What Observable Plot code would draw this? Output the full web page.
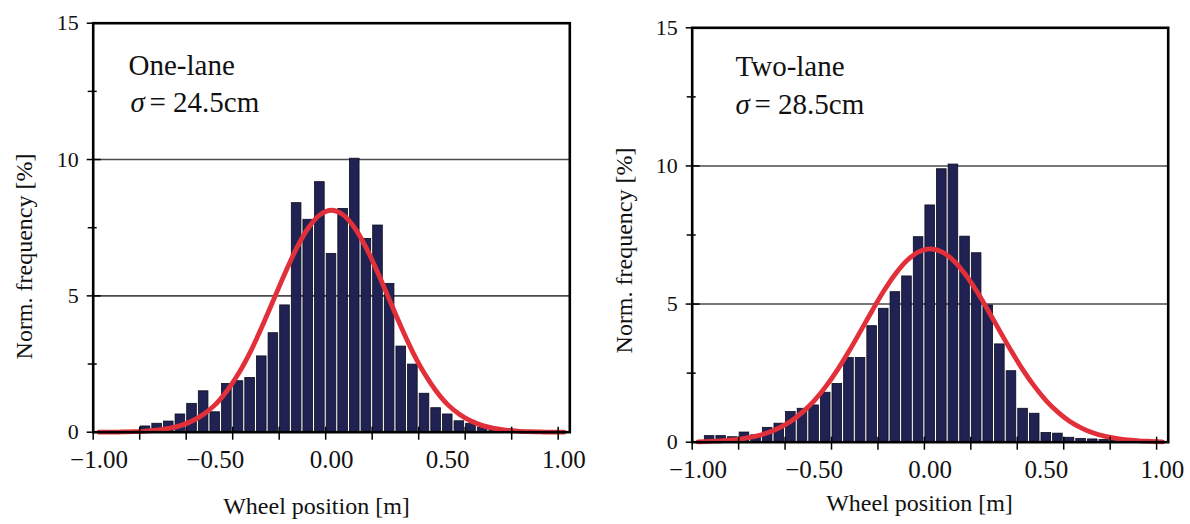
<!DOCTYPE html>
<html><head><meta charset="utf-8">
<script src="https://cdn.jsdelivr.net/npm/d3@7"></script>
<script src="https://cdn.jsdelivr.net/npm/@observablehq/plot@0.6"></script>
<style>
html,body{margin:0;padding:0;background:#fff;}
#wrap{position:relative;width:1190px;height:524px;display:flex;overflow:hidden;}
#wrap svg{display:block;overflow:visible;}
#wrap svg text{font-family:'Liberation Serif','Times New Roman',Times,serif;}
</style></head><body><div id="wrap"></div>
<script>
// ---- data ----
const oneLanePos  = [-0.80,-0.75,-0.70,-0.65,-0.60,-0.55,-0.50,-0.45,-0.40,-0.35,-0.30,-0.25,-0.20,-0.15,-0.10,-0.05,0.00,0.05,0.10,0.15,0.20,0.25,0.30,0.35,0.40,0.45,0.50,0.55,0.60,0.65,0.70];
const oneLaneFreq = [0.21,0.31,0.39,0.65,1.04,1.50,0.73,1.77,1.87,1.99,2.78,3.63,4.65,8.40,7.79,9.17,6.54,8.19,10.03,7.09,7.58,5.44,3.14,2.48,1.41,0.88,0.65,0.40,0.31,0.17,0.09];

const twoLanePos  = [-0.95,-0.90,-0.85,-0.80,-0.75,-0.70,-0.65,-0.60,-0.55,-0.50,-0.45,-0.40,-0.35,-0.30,-0.25,-0.20,-0.15,-0.10,-0.05,0.00,0.05,0.10,0.15,0.20,0.25,0.30,0.35,0.40,0.45,0.50,0.55,0.60,0.65,0.70,0.75,0.80];
const twoLaneFreq = [0.22,0.22,0.18,0.35,0.25,0.52,0.67,1.09,1.21,1.33,1.79,2.11,3.05,3.05,4.20,4.83,5.43,6.00,7.42,8.57,9.88,10.05,7.44,6.84,4.95,3.54,2.57,1.21,1.03,0.33,0.31,0.16,0.12,0.10,0.08,0.05];

// fitted normal curves
const fitX       = [-1.00,-0.95,-0.90,-0.85,-0.80,-0.75,-0.70,-0.65,-0.60,-0.55,-0.50,-0.45,-0.40,-0.35,-0.30,-0.25,-0.20,-0.15,-0.10,-0.05,0.00,0.05,0.10,0.15,0.20,0.25,0.30,0.35,0.40,0.45,0.50,0.55,0.60,0.65,0.70,0.75,0.80,0.85,0.90,0.95,1.00];
const oneLaneFit = [0.00,0.00,0.01,0.02,0.04,0.08,0.14,0.24,0.41,0.66,1.01,1.51,2.15,2.93,3.85,4.84,5.83,6.75,7.49,7.97,8.14,7.97,7.49,6.75,5.83,4.84,3.85,2.93,2.15,1.51,1.01,0.66,0.41,0.24,0.14,0.08,0.04,0.02,0.01,0.00,0.00];
const twoLaneFit = [0.01,0.03,0.05,0.08,0.14,0.22,0.34,0.52,0.76,1.09,1.50,2.01,2.61,3.29,4.02,4.76,5.47,6.09,6.58,6.89,7.00,6.89,6.58,6.09,5.47,4.76,4.02,3.29,2.61,2.01,1.50,1.09,0.76,0.52,0.34,0.22,0.14,0.08,0.05,0.03,0.01];

const xLabelPos   = [-1.00,-0.50,0.00,0.50,1.00];
const xTickLabels = ["\u22121.00","\u22120.50","0.00","0.50","1.00"];
const xTickPos    = [-1.025,-0.825,-0.625,-0.425,-0.225,-0.025,0.175,0.375,0.575,0.775,0.975];
const yMajor      = [0,5,10,15];
const yTickLabels = ["0","5","10","15"];
const yMinor      = [2.5,7.5,12.5];
const gridY       = [5,10];

const titles  = ["One-lane","Two-lane"];
const sigmas  = ["= 24.5cm","= 28.5cm"];
const xTitle  = "Wheel position [m]";
const yTitle  = "Norm. frequency [%]";

const FONT = "'Liberation Serif','Times New Roman',Times,serif";

function panel(c) {
  const bars = c.pos.map((p, i) => ({x1: p - 0.025, x2: p + 0.025, y: c.freq[i]}));
  const fit = fitX.map((x, i) => ({x, y: c.fit[i]}));
  return Plot.plot({
    width: 595, height: 524,
    marginLeft: c.ml, marginRight: c.mr, marginTop: c.mt, marginBottom: c.mb,
    x: {domain: [-1.025, 1.025], axis: null},
    y: {domain: [0, 15], axis: null},
    style: {fontFamily: FONT, fontSize: "24px", color: "#111", background: "white", overflow: "visible"},
    marks: [
      Plot.ruleY(gridY, {stroke: "#4a4a4a", strokeWidth: 1.6}),
      Plot.rectY(bars, {x1: "x1", x2: "x2", y: "y", fill: "#1f2252", stroke: "#0b0c1e", strokeWidth: 0.8, insetLeft: 1, insetRight: 1}),
      Plot.line(fit, {x: "x", y: "y", stroke: "#e2303b", strokeWidth: 4.8, curve: "catmull-rom"}),
      Plot.frame({stroke: "#000", strokeWidth: 2.6}),
      Plot.axisY({ticks: yMajor, label: null, tickSize: 14, dx: 8, tickPadding: 8.4, fontSize: 22, fontFamily: FONT, stroke: "#000", strokeWidth: 1.5,
                  tickFormat: d => yTickLabels[yMajor.indexOf(d)]}),
      Plot.axisY({ticks: yMinor, label: null, tickSize: 9, dx: 4, stroke: "#000", strokeWidth: 1.5, tickFormat: () => ""}),
      Plot.axisX({ticks: xTickPos, label: null, tickSize: 13, dy: -5, stroke: "#000", strokeWidth: 1.5, tickFormat: () => ""}),
      Plot.axisX({ticks: xLabelPos, label: null, tickSize: 0, tickPadding: 18, fontSize: 25, fontFamily: FONT,
                  tickFormat: d => xTickLabels[xLabelPos.indexOf(d)]}),
      Plot.text([c.title], {frameAnchor: "top-left", dx: c.tdx, dy: c.tdy, lineAnchor: "bottom", textAnchor: "start", fontSize: 29, fontFamily: FONT}),
      Plot.text(["\u03c3"], {frameAnchor: "top-left", dx: c.sdx, dy: c.sdy, lineAnchor: "bottom", textAnchor: "start", fontSize: 29, fontStyle: "italic", fontFamily: FONT}),
      Plot.text([c.sigma], {frameAnchor: "top-left", dx: c.sdx + 19, dy: c.sdy, lineAnchor: "bottom", textAnchor: "start", fontSize: 29, fontFamily: FONT}),
      Plot.text([xTitle], {frameAnchor: "bottom", dx: c.xldx, dy: c.xldy, lineAnchor: "bottom", textAnchor: "middle", fontSize: 24, fontFamily: FONT}),
      Plot.text([yTitle], {frameAnchor: "left", dx: c.yldx, dy: c.yldy, rotate: -90, lineAnchor: "middle", textAnchor: "middle", fontSize: 24, fontFamily: FONT})
    ]
  });
}

const wrap = document.getElementById("wrap");
wrap.appendChild(panel({
  pos: oneLanePos, freq: oneLaneFreq, fit: oneLaneFit,
  ml: 92.7, mr: 25.7, mt: 22.7, mb: 92.3,
  title: titles[0], sigma: sigmas[0],
  tdx: 35.3, tdy: 51.5, sdx: 37.3, sdy: 89,
  xldx: -15, xldy: 81.3, yldx: -68.7, yldy: 28.8
}));
wrap.appendChild(panel({
  pos: twoLanePos, freq: twoLaneFreq, fit: twoLaneFit,
  ml: 96.7, mr: 22.3, mt: 27.3, mb: 82.3,
  title: titles[1], sigma: sigmas[1],
  tdx: 43.3, tdy: 47.7, sdx: 43.3, sdy: 86,
  xldx: -10.7, xldy: 68.3, yldx: -67.7, yldy: 15.5
}));
</script></body></html>
